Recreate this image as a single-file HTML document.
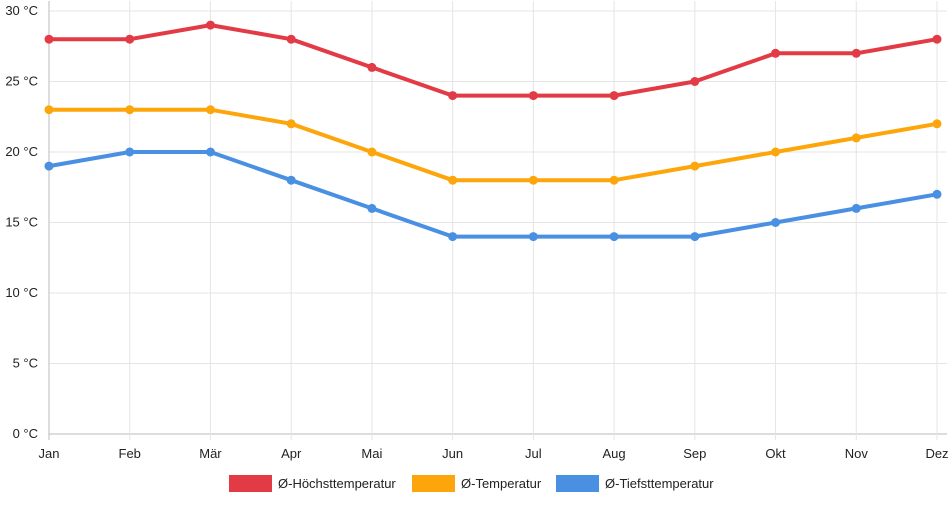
<!DOCTYPE html>
<html><head><meta charset="utf-8"><style>
body{margin:0;background:#fff;font-family:"Liberation Sans",sans-serif}
svg text{font-family:"Liberation Sans",sans-serif;font-size:13px;fill:#222}
</style></head><body>
<svg id="chart" width="952" height="500"></svg>
<script>
const months=["Jan","Feb","Mär","Apr","Mai","Jun","Jul","Aug","Sep","Okt","Nov","Dez"];
const maxTemp=[28,28,29,28,26,24,24,24,25,27,27,28];
const avgTemp=[23,23,23,22,20,18,18,18,19,20,21,22];
const minTemp=[19,20,20,18,16,14,14,14,14,15,16,17];
const yTicks=[0,5,10,15,20,25,30];
const seriesNames=["Ø-Höchsttemperatur","Ø-Temperatur","Ø-Tiefsttemperatur"];
const NS="http://www.w3.org/2000/svg";
const svg=document.getElementById('chart');
const x0=49,x1=937,yTop=11,yBot=434;
const xs=i=>x0+i*(x1-x0)/(months.length-1);
const ys=v=>yBot-(v/30)*(yBot-yTop);
function mk(t,a,p){const e=document.createElementNS(NS,t);for(const k in a)e.setAttribute(k,a[k]);(p||svg).appendChild(e);return e;}
const grid=mk('g',{});


yTicks.forEach(v=>{
  mk('line',{x1:x0,x2:x1+10,y1:ys(v),y2:ys(v),stroke:v===0?'#bbb':'#e5e5e5','stroke-width':1},grid);
  const t=mk('text',{x:38,y:ys(v)+4,'text-anchor':'end'});
  t.textContent=v+" °C";
  
  
});
months.forEach((m,i)=>{
  mk('line',{x1:xs(i),x2:xs(i),y1:yTop-10,y2:yBot+6,stroke:i===0?'#bbb':'#e5e5e5','stroke-width':1},grid);
  const t=mk('text',{x:xs(i),y:458,'text-anchor':'middle'});
  t.textContent=m;
  
  
});
const colors=["#e23b46","#fca60b","#4a90e2"];
[maxTemp,avgTemp,minTemp].forEach((arr,s)=>{
  const g=mk('g',{});
  
  
  mk('polyline',{points:arr.map((v,i)=>xs(i)+','+ys(v)).join(' '),fill:'none',stroke:colors[s],'stroke-width':4,'stroke-linejoin':'round'},g);
  arr.forEach((v,i)=>{
    const c=mk('circle',{cx:xs(i),cy:ys(v),r:4.5,fill:colors[s]},g);
    
    
  });
});
const legX=[229,412,556];
seriesNames.forEach((n,s)=>{
  const g=mk('g',{});
  
  
  mk('rect',{x:legX[s],y:475,width:43,height:17,fill:colors[s]},g);
  const t=mk('text',{x:legX[s]+49,y:488});
  t.textContent=n;
});
</script>
</body></html>
